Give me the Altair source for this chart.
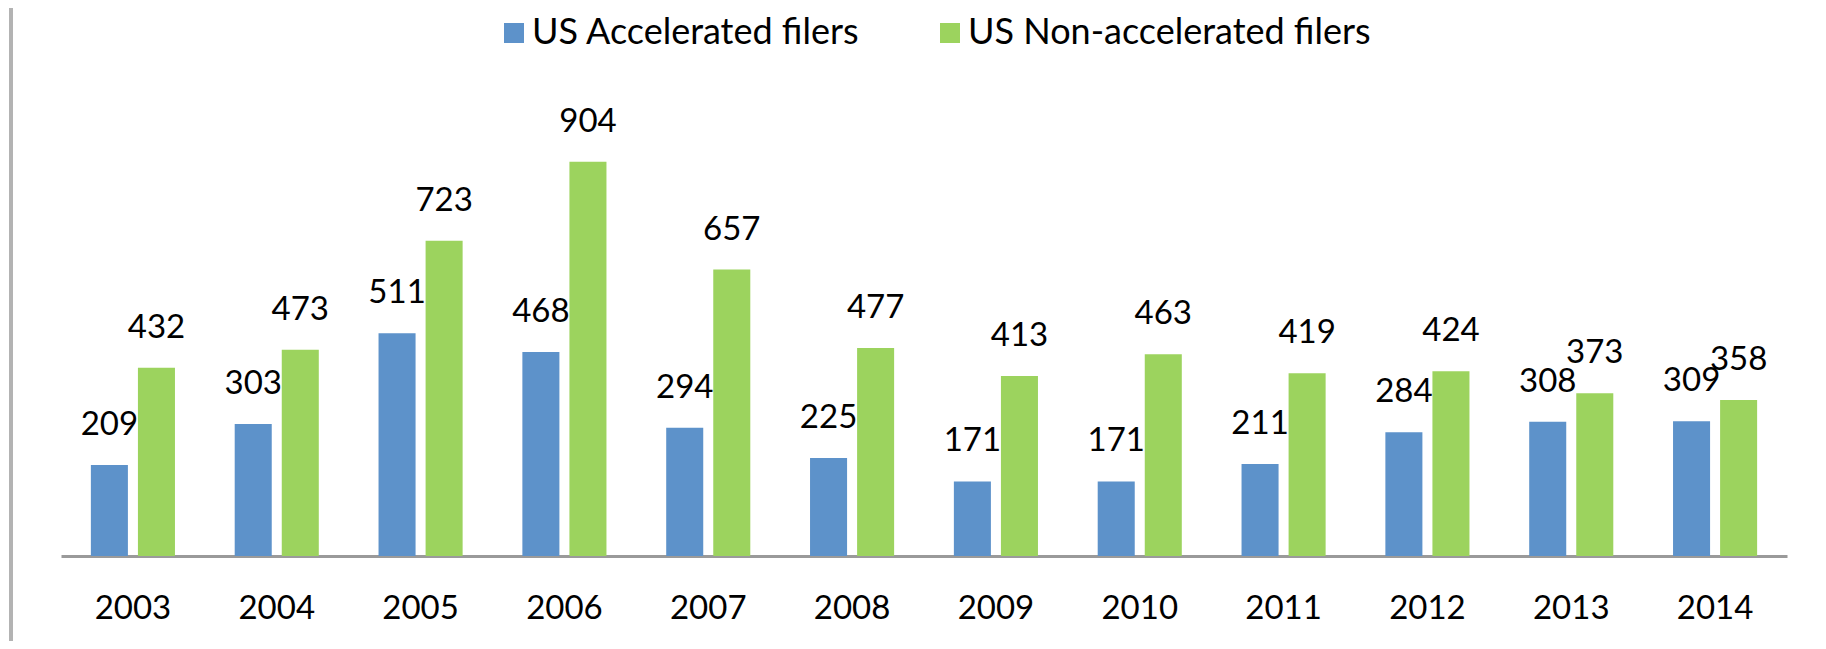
import altair as alt
import pandas as pd

years = ["2003", "2004", "2005", "2006", "2007", "2008", "2009", "2010", "2011", "2012", "2013", "2014"]
accelerated = [209, 303, 511, 468, 294, 225, 171, 171, 211, 284, 308, 309]
non_accelerated = [432, 473, 723, 904, 657, 477, 413, 463, 419, 424, 373, 358]
series_names = ["US Accelerated filers", "US Non-accelerated filers"]
series_colors = ["#5D92CA", "#9CD35E"]

rows = []
for y, a, n in zip(years, accelerated, non_accelerated):
    rows.append({"year": y, "series": series_names[0], "value": a})
    rows.append({"year": y, "series": series_names[1], "value": n})
df = pd.DataFrame(rows)

FONT = "Lato"
W, H = 1726, 436

x_enc = alt.X(
    "year:N",
    sort=years,
    scale=alt.Scale(paddingInner=0.346, paddingOuter=0.173),
    axis=alt.Axis(
        title=None,
        labelAngle=0,
        labelFont=FONT,
        labelFontSize=33,
        labelColor="#000000",
        labelBaseline="middle",
        labelPadding=52,
        ticks=False,
        tickSize=0,
        domainColor="#9a9a9a",
        domainWidth=3,
        grid=False,
    ),
)
xoff_enc = alt.XOffset(
    "series:N", sort=series_names, scale=alt.Scale(paddingInner=0.213, paddingOuter=0.106)
)
y_enc = alt.Y("value:Q", scale=alt.Scale(domain=[0, 1000], nice=False), axis=None)

bars = alt.Chart(df).mark_bar().encode(
    x=x_enc,
    xOffset=xoff_enc,
    y=y_enc,
    color=alt.Color(
        "series:N",
        sort=series_names,
        scale=alt.Scale(domain=series_names, range=series_colors),
        legend=alt.Legend(
            title=None,
            orient="none",
            legendX=435,
            legendY=-105,
            direction="horizontal",
            symbolType="square",
            symbolSize=400,
            symbolStrokeWidth=0,
            symbolOpacity=1,
            labelFont=FONT,
            labelFontSize=36,
            labelColor="#000000",
            labelOffset=0,
            labelLimit=1000,
            columnPadding=72,
            padding=0,
        ),
    ),
)

labels = alt.Chart(df).mark_text(
    font=FONT, fontSize=33, color="#000000", baseline="alphabetic", dy=-30
).encode(
    x=alt.X("year:N", sort=years),
    xOffset=alt.XOffset("series:N", sort=series_names),
    y=alt.Y("value:Q"),
    text=alt.Text("value:Q"),
)

border = alt.Chart(pd.DataFrame({"a": [0]})).mark_rule(color="#b3b3b3", strokeWidth=4).encode(
    x=alt.value(-50),
    y=alt.value(-112),
    y2=alt.value(H + 85),
)

chart = (
    alt.layer(bars, labels, border)
    .properties(
        width=W,
        height=H,
        autosize=alt.AutoSizeParams(type="none"),
        padding={"left": 53, "top": 112, "right": 31, "bottom": 85},
    )
    .configure_view(strokeWidth=0)
)

chart.save("out.html", embed_options={"renderer": "svg", "actions": False})
